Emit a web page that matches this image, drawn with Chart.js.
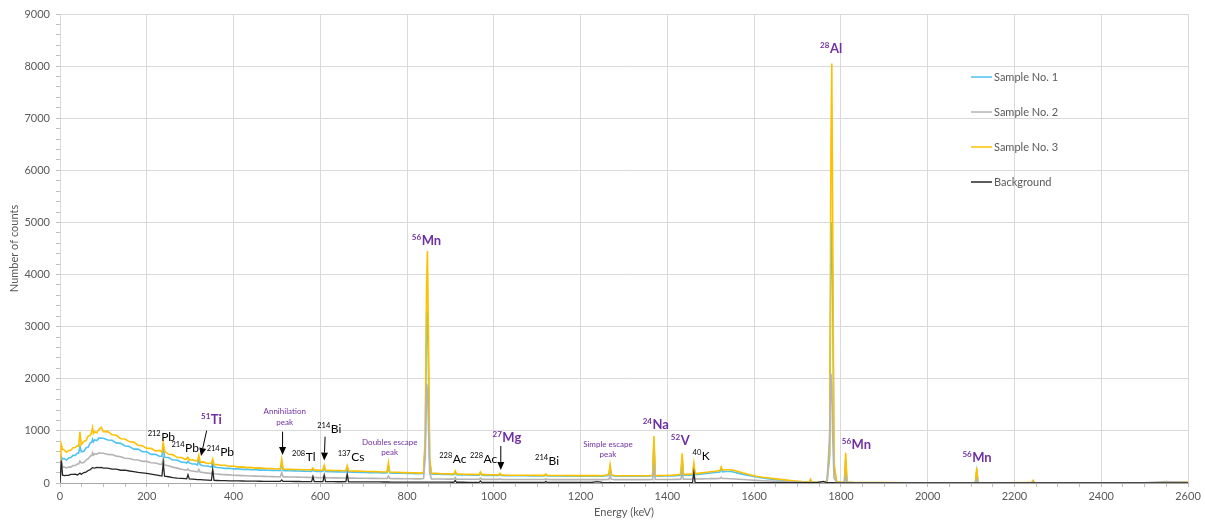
<!DOCTYPE html>
<html>
<head>
<meta charset="utf-8">
<script src="https://cdn.jsdelivr.net/npm/chart.js@4.4.1/dist/chart.umd.min.js"></script>
<style>
  html, body { margin: 0; padding: 0; background: #ffffff; }
  #wrap { position: relative; width: 1205px; height: 525px; }
</style>
</head>
<body>
<div id="wrap"><canvas id="spectrumChart" width="1205" height="525"></canvas></div>
<script>
// Gamma spectrum - energy grid (keV), shared by all four series
const energyKeV = [
  0, 3, 6, 10, 15, 20, 25, 30, 35, 40,
  43, 46, 49, 55, 60, 65, 70, 73, 75, 77,
  80, 85, 90, 95, 100, 110, 120, 130, 140, 150,
  160, 170, 180, 190, 200, 210, 220, 230, 235, 238,
  241, 250, 260, 270, 280, 289, 292, 295, 298, 305,
  312, 317, 320, 323, 330, 340, 349, 352, 355, 362,
  370, 380, 390, 400, 410, 420, 430, 440, 450, 460,
  470, 480, 490, 500, 508, 511, 514, 520, 530, 540,
  550, 560, 570, 580, 583, 586, 595, 600, 606, 609,
  612, 620, 630, 640, 650, 659, 662, 665, 675, 685,
  695, 705, 715, 725, 735, 745, 754, 757, 760, 770,
  780, 790, 800, 810, 820, 830, 838, 842, 845, 847,
  849, 852, 856, 865, 875, 885, 895, 905, 908, 911,
  914, 920, 930, 940, 950, 960, 966, 969, 972, 980,
  990, 1000, 1011, 1014, 1017, 1025, 1040, 1055, 1070, 1085,
  1100, 1117, 1120, 1123, 1135, 1150, 1165, 1180, 1195, 1210,
  1225, 1238, 1250, 1265, 1268, 1271, 1280, 1295, 1310, 1325,
  1340, 1355, 1366, 1369, 1372, 1380, 1395, 1410, 1420, 1431,
  1434, 1437, 1445, 1452, 1458, 1461, 1464, 1470, 1480, 1490,
  1500, 1510, 1521, 1524, 1527, 1535, 1545, 1555, 1565, 1575,
  1590, 1605, 1620, 1635, 1650, 1665, 1680, 1695, 1710, 1727,
  1730, 1733, 1745, 1760, 1768, 1774, 1777, 1779, 1781, 1784,
  1790, 1800, 1808, 1811, 1814, 1830, 1860, 1900, 1950, 2000,
  2050, 2100, 2110, 2113, 2116, 2130, 2180, 2230, 2240, 2243,
  2246, 2300, 2350, 2400, 2450, 2500, 2550, 2600
];

const sample1 = [
  0, 500, 460, 470, 440, 480, 490, 530, 530, 570,
  570, 700, 600, 610, 675, 690, 775, 780, 840, 790,
  825, 815, 865, 860, 860, 825, 820, 770, 760, 710,
  700, 650, 650, 600, 600, 550, 550, 510, 515, 700,
  495, 490, 440, 440, 400, 395, 380, 420, 385, 365,
  365, 345, 460, 350, 330, 325, 305, 390, 310, 296,
  294, 281, 284, 271, 274, 262, 263, 255, 258, 248,
  248, 245, 242, 240, 242, 400, 240, 238, 235, 232,
  230, 228, 226, 224, 260, 224, 222, 220, 224, 300,
  220, 218, 216, 214, 212, 214, 290, 210, 208, 206,
  204, 202, 200, 198, 196, 194, 196, 330, 192, 190,
  188, 186, 184, 182, 180, 178, 185, 800, 3300, 3200,
  2400, 420, 175, 170, 168, 165, 162, 160, 162, 200,
  158, 156, 155, 153, 152, 150, 150, 190, 148, 147,
  146, 145, 144, 165, 144, 142, 140, 140, 138, 137,
  136, 136, 160, 135, 134, 133, 132, 132, 131, 131,
  130, 134, 130, 145, 300, 145, 130, 130, 130, 130,
  130, 130, 138, 780, 138, 132, 133, 135, 138, 150,
  480, 150, 148, 150, 155, 320, 160, 165, 175, 185,
  192, 200, 210, 270, 215, 220, 220, 205, 185, 165,
  140, 115, 95, 80, 65, 52, 40, 30, 22, 18,
  50, 16, 12, 15, 30, 500, 4500, 5000, 3800, 300,
  25, 10, 12, 450, 15, 8, 6, 6, 5, 5,
  5, 5, 8, 220, 8, 5, 5, 6, 8, 35,
  6, 5, 5, 4, 4, 4, 5, 15
];

const sample2 = [
  0, 440, 305, 305, 290, 305, 305, 335, 335, 365,
  365, 420, 385, 395, 440, 465, 520, 525, 580, 535,
  560, 555, 580, 570, 572, 548, 545, 515, 505, 475,
  470, 445, 440, 415, 415, 390, 385, 360, 358, 480,
  345, 330, 305, 285, 265, 250, 245, 270, 240, 230,
  220, 212, 260, 208, 200, 190, 182, 230, 178, 172,
  165, 160, 155, 150, 146, 142, 138, 135, 132, 130,
  127, 125, 123, 120, 122, 200, 120, 118, 116, 114,
  112, 110, 108, 106, 135, 106, 104, 102, 105, 145,
  102, 100, 99, 98, 96, 98, 140, 95, 93, 92,
  91, 90, 89, 88, 87, 86, 87, 130, 85, 84,
  83, 82, 82, 81, 80, 80, 85, 500, 1900, 1800,
  1200, 200, 78, 77, 76, 76, 75, 74, 76, 105,
  74, 73, 73, 72, 72, 71, 71, 95, 70, 70,
  70, 69, 69, 80, 69, 68, 68, 67, 67, 67,
  66, 66, 80, 66, 65, 65, 65, 64, 64, 64,
  64, 68, 64, 70, 130, 70, 64, 64, 64, 65,
  65, 65, 68, 280, 68, 66, 67, 68, 69, 72,
  180, 72, 72, 73, 75, 160, 76, 78, 80, 82,
  83, 84, 85, 110, 86, 85, 82, 78, 72, 66,
  58, 50, 43, 37, 31, 26, 21, 17, 13, 11,
  25, 10, 9, 10, 18, 900, 2100, 1800, 900, 100,
  12, 6, 8, 120, 8, 5, 4, 4, 3, 3,
  3, 3, 5, 70, 5, 3, 3, 4, 6, 20,
  4, 3, 3, 3, 3, 3, 30, 10
];

const sample3 = [
  0, 740, 650, 630, 590, 625, 630, 675, 680, 715,
  705, 980, 735, 800, 815, 900, 915, 975, 1060, 950,
  985, 965, 1030, 1070, 985, 990, 925, 915, 850, 845,
  790, 785, 725, 715, 665, 665, 615, 625, 590, 780,
  610, 550, 545, 490, 490, 450, 465, 490, 440, 450,
  425, 430, 530, 400, 405, 375, 378, 460, 352, 355,
  340, 340, 322, 325, 305, 310, 296, 300, 285, 290,
  280, 278, 275, 270, 275, 450, 270, 265, 262, 260,
  258, 255, 255, 250, 290, 250, 248, 245, 250, 340,
  245, 242, 240, 240, 235, 240, 330, 235, 230, 228,
  225, 222, 220, 218, 215, 212, 215, 390, 210, 205,
  205, 200, 200, 198, 195, 190, 200, 900, 3800, 4450,
  3000, 500, 190, 185, 180, 178, 175, 172, 175, 230,
  172, 170, 168, 165, 165, 162, 162, 210, 160, 160,
  158, 156, 155, 185, 155, 152, 150, 150, 148, 148,
  146, 146, 175, 145, 145, 144, 143, 142, 142, 141,
  141, 145, 140, 160, 345, 160, 140, 140, 140, 140,
  140, 140, 150, 900, 150, 142, 145, 150, 155, 170,
  570, 170, 165, 170, 175, 380, 180, 185, 195, 205,
  215, 225, 240, 310, 250, 255, 255, 240, 215, 190,
  160, 130, 110, 95, 80, 65, 50, 38, 28, 22,
  70, 20, 15, 20, 40, 600, 6500, 8050, 5000, 400,
  30, 12, 15, 580, 20, 10, 8, 8, 6, 6,
  6, 6, 10, 290, 10, 6, 6, 8, 10, 50,
  8, 6, 6, 5, 5, 5, 6, 20
];

const background = [
  0, 430, 150, 140, 145, 145, 165, 165, 170, 155,
  170, 190, 165, 200, 210, 240, 255, 285, 295, 290,
  285, 300, 295, 300, 285, 285, 265, 265, 245, 245,
  230, 220, 205, 195, 185, 170, 155, 140, 135, 380,
  130, 120, 105, 95, 88, 82, 80, 160, 78, 75,
  70, 66, 66, 64, 60, 55, 52, 260, 50, 48,
  46, 44, 42, 40, 39, 38, 37, 36, 35, 34,
  33, 32, 32, 31, 31, 60, 31, 30, 30, 29,
  29, 28, 28, 27, 120, 27, 26, 26, 28, 150,
  26, 25, 25, 24, 24, 25, 170, 23, 22, 22,
  21, 21, 20, 20, 20, 19, 19, 20, 19, 18,
  18, 18, 17, 17, 17, 16, 16, 16, 17, 17,
  17, 16, 16, 15, 15, 15, 15, 14, 15, 50,
  14, 14, 14, 13, 13, 13, 13, 40, 13, 12,
  12, 12, 12, 12, 12, 12, 11, 11, 11, 11,
  11, 11, 30, 11, 10, 10, 10, 10, 10, 10,
  10, 28, 10, 9, 10, 9, 9, 9, 9, 9,
  9, 9, 9, 10, 9, 9, 9, 9, 9, 9,
  9, 9, 9, 9, 10, 200, 10, 9, 8, 8,
  8, 8, 8, 9, 8, 8, 7, 7, 7, 7,
  7, 6, 6, 6, 5, 5, 5, 5, 5, 5,
  5, 5, 5, 30, 5, 5, 5, 5, 5, 5,
  4, 4, 4, 4, 4, 4, 4, 4, 3, 3,
  3, 3, 3, 3, 3, 3, 3, 3, 3, 3,
  3, 3, 3, 3, 3, 3, 3, 3
];

const seriesNames = ["Sample No. 1", "Sample No. 2", "Sample No. 3", "Background"];
const seriesColors = ["#4ec3ef", "#b4b4b4", "#ffc000", "#262626"];

// Isotope labels: energy / counts where the label text starts (left, baseline)
const PURPLE = "#7030a0";
const isotopeLabels = [
  { e: 202, c: 812, sup: "212", name: "Pb", purple: false },
  { e: 257, c: 600, sup: "214", name: "Pb", purple: false },
  { e: 325, c: 1132, sup: "51", name: "Ti", purple: true },
  { e: 338, c: 518, sup: "214", name: "Pb", purple: false },
  { e: 535, c: 422, sup: "208", name: "Tl", purple: false },
  { e: 593, c: 965, sup: "214", name: "Bi", purple: false },
  { e: 640, c: 422, sup: "137", name: "Cs", purple: false },
  { e: 811, c: 4568, sup: "56", name: "Mn", purple: true },
  { e: 874, c: 390, sup: "228", name: "Ac", purple: false },
  { e: 945, c: 390, sup: "228", name: "Ac", purple: false },
  { e: 997, c: 793, sup: "27", name: "Mg", purple: true },
  { e: 1095, c: 345, sup: "214", name: "Bi", purple: false },
  { e: 1343, c: 1030, sup: "24", name: "Na", purple: true },
  { e: 1408, c: 729, sup: "52", name: "V", purple: true },
  { e: 1458, c: 441, sup: "40", name: "K", purple: false },
  { e: 1752, c: 8259, sup: "28", name: "Al", purple: true },
  { e: 1802, c: 647, sup: "56", name: "Mn", purple: true },
  { e: 2080, c: 409, sup: "56", name: "Mn", purple: true }
];

// Small two-line notes (centre energy, counts of first line)
const peakNotes = [
  { e: 518, c: 1368, lines: ["Annihilation", "peak"] },
  { e: 760, c: 781, lines: ["Doubles escape", "peak"] },
  { e: 1263, c: 743, lines: ["Simple escape", "peak"] }
];

// Arrows: [energy, counts] from -> to
const arrowList = [
  { from: [338, 1004], to: [325, 518] },
  { from: [513, 985], to: [513, 537] },
  { from: [611, 889], to: [609, 430] },
  { from: [1016, 710], to: [1016, 250] }
];

const FONT = "Lato, 'Open Sans', sans-serif";
const AXIS_GREY = "#595959";

const spectrumDatasets = [sample1, sample2, sample3, background].map((vals, i) => ({
  label: seriesNames[i],
  data: energyKeV.map((e, k) => ({ x: e, y: vals[k] })),
  borderColor: seriesColors[i],
  backgroundColor: seriesColors[i],
  borderWidth: i === 3 ? 1.3 : 1.6,
  pointRadius: 0,
  tension: 0,
  fill: false,
  order: [3, 1, 2, 0][i],
}));

// Legend drawn inside the plot area
const insideLegend = {
  id: "insideLegend",
  afterDraw(chart) {
    const ctx = chart.ctx;
    const x0 = 971;
    ctx.save();
    ctx.font = "11px " + FONT;
    ctx.textBaseline = "middle";
    seriesNames.forEach((name, i) => {
      const y = 77 + i * 35;
      ctx.strokeStyle = seriesColors[i];
      ctx.lineWidth = 1.5;
      ctx.beginPath();
      ctx.moveTo(x0, y);
      ctx.lineTo(x0 + 21, y);
      ctx.stroke();
      ctx.fillStyle = AXIS_GREY;
      ctx.fillText(name, x0 + 23, y);
    });
    ctx.restore();
  },
};

// Peak labels and arrows
const peakAnnotations = {
  id: "peakAnnotations",
  afterDatasetsDraw(chart) {
    const ctx = chart.ctx;
    const xs = chart.scales.x;
    const ys = chart.scales.y;
    ctx.save();
    ctx.textBaseline = "alphabetic";
    isotopeLabels.forEach((lb) => {
      const px = xs.getPixelForValue(lb.e);
      const py = ys.getPixelForValue(lb.c);
      const color = lb.purple ? PURPLE : "#000000";
      const weight = lb.purple ? "bold " : "";
      const mainSize = lb.purple ? 13 : 12;
      ctx.fillStyle = color;
      ctx.font = weight + (lb.purple ? 8 : 7.5) + "px " + FONT;
      ctx.textAlign = "left";
      ctx.fillText(lb.sup, px, py - 5);
      const w = ctx.measureText(lb.sup).width;
      ctx.font = weight + mainSize + "px " + FONT;
      ctx.fillText(lb.name, px + w + 0.5, py);
    });

    ctx.fillStyle = PURPLE;
    ctx.font = "8px " + FONT;
    ctx.textAlign = "center";
    ctx.textBaseline = "middle";
    peakNotes.forEach((n) => {
      const px = xs.getPixelForValue(n.e);
      const py = ys.getPixelForValue(n.c);
      n.lines.forEach((t, j) => ctx.fillText(t, px, py + j * 10.5));
    });

    ctx.strokeStyle = "#000000";
    ctx.fillStyle = "#000000";
    ctx.lineWidth = 1;
    arrowList.forEach((a) => {
      const x1 = xs.getPixelForValue(a.from[0]);
      const y1 = ys.getPixelForValue(a.from[1]);
      const x2 = xs.getPixelForValue(a.to[0]);
      const y2 = ys.getPixelForValue(a.to[1]);
      const ang = Math.atan2(y2 - y1, x2 - x1);
      const headLen = 8;
      const headW = 3.5;
      const bx = x2 - headLen * Math.cos(ang);
      const by = y2 - headLen * Math.sin(ang);
      ctx.beginPath();
      ctx.moveTo(x1, y1);
      ctx.lineTo(bx, by);
      ctx.stroke();
      ctx.beginPath();
      ctx.moveTo(x2, y2);
      ctx.lineTo(bx + headW * Math.sin(ang), by - headW * Math.cos(ang));
      ctx.lineTo(bx - headW * Math.sin(ang), by + headW * Math.cos(ang));
      ctx.closePath();
      ctx.fill();
    });
    ctx.restore();
  },
};

const ctx = document.getElementById("spectrumChart");

new Chart(ctx, {
  type: "line",
  data: { datasets: spectrumDatasets },
  plugins: [insideLegend, peakAnnotations],
  options: {
    responsive: false,
    animation: false,
    layout: { padding: { left: 0, right: 17, top: 14, bottom: 0 } },
    plugins: {
      legend: { display: false },
      tooltip: { enabled: false },
    },
    scales: {
      x: {
        type: "linear",
        min: 0,
        max: 2600,
        afterFit(scale) { scale.height = 42; },
        border: { color: "#a6a6a6", width: 1 },
        grid: {
          color: (c) => (c.tick && c.tick.value % 200 === 0 ? "#d9d9d9" : "rgba(0,0,0,0)"),
          tickColor: "#bfbfbf",
          tickLength: 4,
        },
        ticks: {
          stepSize: 50,
          autoSkip: false,
          maxRotation: 0,
          padding: 3,
          color: AXIS_GREY,
          font: { family: FONT, size: 11 },
          callback: (v) => (v % 200 === 0 ? String(v) : ""),
        },
        title: {
          display: true,
          text: "Energy (keV)",
          color: AXIS_GREY,
          font: { family: FONT, size: 11 },
          padding: { top: 0, bottom: 6 },
        },
      },
      y: {
        min: 0,
        max: 9000,
        afterFit(scale) { scale.width = 60; },
        border: { color: "#d9d9d9", width: 1 },
        grid: {
          color: (c) => (c.tick && c.tick.value % 1000 === 0 ? "#d9d9d9" : "rgba(0,0,0,0)"),
          tickColor: "#bfbfbf",
          tickLength: 4,
        },
        ticks: {
          stepSize: 200,
          autoSkip: false,
          padding: 6,
          color: AXIS_GREY,
          font: { family: FONT, size: 11 },
          callback: (v) => (v % 1000 === 0 ? String(v) : ""),
        },
        title: {
          display: true,
          text: "Number of counts",
          color: AXIS_GREY,
          font: { family: FONT, size: 11 },
          padding: { top: 8, bottom: 0 },
        },
      },
    },
  },
});
</script>
</body>
</html>
